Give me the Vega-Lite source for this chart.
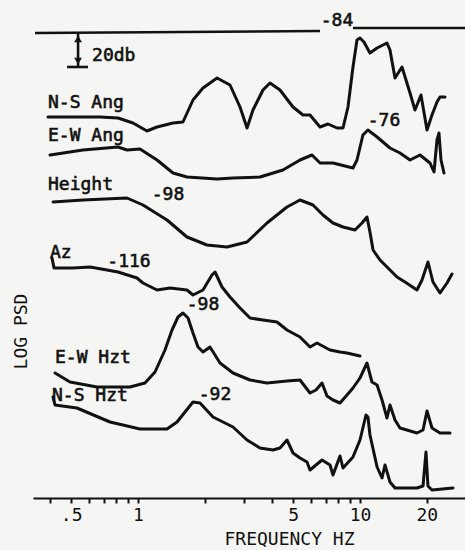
{
  "$schema": "https://vega.github.io/schema/vega-lite/v6.json",
  "width": 432,
  "height": 498,
  "autosize": "none",
  "padding": {"left": 33, "right": 0, "top": 0, "bottom": 52},
  "background": "#f5f5f3",
  "config": {"view": {"stroke": null}, "font": "DejaVu Sans Mono"},
  "datasets": {
    "curves": [
      {"s":"N-S Ang","f":0.3932,"v":381},{"s":"N-S Ang","f":0.674,"v":381},{"s":"N-S Ang","f":0.813,"v":380},{"s":"N-S Ang","f":0.949,"v":375},{"s":"N-S Ang","f":1.0976,"v":367},{"s":"N-S Ang","f":1.218,"v":371},{"s":"N-S Ang","f":1.438,"v":375},{"s":"N-S Ang","f":1.594,"v":376},{"s":"N-S Ang","f":1.769,"v":398},{"s":"N-S Ang","f":1.962,"v":410},{"s":"N-S Ang","f":2.270,"v":420},{"s":"N-S Ang","f":2.597,"v":413},{"s":"N-S Ang","f":2.881,"v":391},{"s":"N-S Ang","f":3.098,"v":370},{"s":"N-S Ang","f":3.296,"v":388},{"s":"N-S Ang","f":3.656,"v":408},{"s":"N-S Ang","f":3.932,"v":415},{"s":"N-S Ang","f":4.362,"v":408},{"s":"N-S Ang","f":4.991,"v":391},{"s":"N-S Ang","f":5.537,"v":383},{"s":"N-S Ang","f":5.954,"v":383},{"s":"N-S Ang","f":6.605,"v":371},{"s":"N-S Ang","f":7.176,"v":374},{"s":"N-S Ang","f":7.879,"v":370},{"s":"N-S Ang","f":8.384,"v":370},{"s":"N-S Ang","f":8.830,"v":391},{"s":"N-S Ang","f":9.299,"v":431},{"s":"N-S Ang","f":9.694,"v":458},{"s":"N-S Ang","f":10.0,"v":460},{"s":"N-S Ang","f":10.42,"v":456},{"s":"N-S Ang","f":11.09,"v":445},{"s":"N-S Ang","f":11.94,"v":450},{"s":"N-S Ang","f":13.23,"v":455},{"s":"N-S Ang","f":13.65,"v":448},{"s":"N-S Ang","f":14.38,"v":420},{"s":"N-S Ang","f":15.46,"v":431},{"s":"N-S Ang","f":16.80,"v":405},{"s":"N-S Ang","f":17.69,"v":388},{"s":"N-S Ang","f":18.83,"v":403},{"s":"N-S Ang","f":20.04,"v":368},{"s":"N-S Ang","f":21.10,"v":383},{"s":"N-S Ang","f":22.23,"v":396},{"s":"N-S Ang","f":22.93,"v":401},{"s":"N-S Ang","f":24.15,"v":401},
      {"s":"E-W Ang","f":0.4015,"v":343},{"s":"E-W Ang","f":0.565,"v":348},{"s":"E-W Ang","f":0.813,"v":351},{"s":"E-W Ang","f":0.892,"v":348},{"s":"E-W Ang","f":1.021,"v":349},{"s":"E-W Ang","f":1.218,"v":338},{"s":"E-W Ang","f":1.438,"v":325},{"s":"E-W Ang","f":1.662,"v":321},{"s":"E-W Ang","f":2.270,"v":319},{"s":"E-W Ang","f":2.679,"v":320},{"s":"E-W Ang","f":3.544,"v":321},{"s":"E-W Ang","f":4.499,"v":328},{"s":"E-W Ang","f":5.367,"v":338},{"s":"E-W Ang","f":6.079,"v":343},{"s":"E-W Ang","f":6.605,"v":335},{"s":"E-W Ang","f":7.558,"v":335},{"s":"E-W Ang","f":9.299,"v":330},{"s":"E-W Ang","f":9.694,"v":338},{"s":"E-W Ang","f":10.31,"v":363},{"s":"E-W Ang","f":10.86,"v":368},{"s":"E-W Ang","f":11.94,"v":361},{"s":"E-W Ang","f":13.65,"v":350},{"s":"E-W Ang","f":15.14,"v":345},{"s":"E-W Ang","f":16.80,"v":338},{"s":"E-W Ang","f":18.64,"v":343},{"s":"E-W Ang","f":20.67,"v":335},{"s":"E-W Ang","f":21.55,"v":326},{"s":"E-W Ang","f":22.23,"v":358},{"s":"E-W Ang","f":22.69,"v":365},{"s":"E-W Ang","f":23.17,"v":338},{"s":"E-W Ang","f":23.90,"v":325},
      {"s":"Height","f":0.4141,"v":296},{"s":"Height","f":0.565,"v":298},{"s":"Height","f":0.892,"v":300},{"s":"Height","f":1.053,"v":293},{"s":"Height","f":1.351,"v":278},{"s":"Height","f":1.662,"v":261},{"s":"Height","f":2.045,"v":253},{"s":"Height","f":2.518,"v":251},{"s":"Height","f":3.098,"v":256},{"s":"Height","f":3.811,"v":275},{"s":"Height","f":4.690,"v":291},{"s":"Height","f":5.367,"v":298},{"s":"Height","f":6.142,"v":293},{"s":"Height","f":6.813,"v":283},{"s":"Height","f":7.558,"v":275},{"s":"Height","f":8.384,"v":271},{"s":"Height","f":9.495,"v":268},{"s":"Height","f":10.21,"v":275},{"s":"Height","f":10.75,"v":281},{"s":"Height","f":11.09,"v":266},{"s":"Height","f":11.45,"v":248},{"s":"Height","f":12.31,"v":238},{"s":"Height","f":13.23,"v":231},{"s":"Height","f":14.68,"v":221},{"s":"Height","f":15.95,"v":216},{"s":"Height","f":18.06,"v":208},{"s":"Height","f":19.03,"v":218},{"s":"Height","f":20.24,"v":236},{"s":"Height","f":21.32,"v":216},{"s":"Height","f":22.93,"v":205},{"s":"Height","f":24.66,"v":215},{"s":"Height","f":25.97,"v":224},
      {"s":"Az","f":0.4099,"v":240},{"s":"Az","f":0.4184,"v":230},{"s":"Az","f":0.5093,"v":230},{"s":"Az","f":0.608,"v":231},{"s":"Az","f":0.7249,"v":228},{"s":"Az","f":0.813,"v":226},{"s":"Az","f":0.9893,"v":220},{"s":"Az","f":1.053,"v":215},{"s":"Az","f":1.218,"v":208},{"s":"Az","f":1.394,"v":210},{"s":"Az","f":1.662,"v":208},{"s":"Az","f":1.769,"v":203},{"s":"Az","f":1.962,"v":208},{"s":"Az","f":2.154,"v":223},{"s":"Az","f":2.223,"v":226},{"s":"Az","f":2.390,"v":211},{"s":"Az","f":2.597,"v":201},{"s":"Az","f":2.881,"v":190},{"s":"Az","f":3.196,"v":180},{"s":"Az","f":3.656,"v":178},{"s":"Az","f":4.228,"v":176},{"s":"Az","f":4.690,"v":168},{"s":"Az","f":5.367,"v":161},{"s":"Az","f":5.954,"v":151},{"s":"Az","f":6.403,"v":155},{"s":"Az","f":7.327,"v":148},{"s":"Az","f":8.127,"v":146},{"s":"Az","f":8.740,"v":145},{"s":"Az","f":10.0,"v":142},
      {"s":"E-W Hzt","f":0.4228,"v":125},{"s":"E-W Hzt","f":0.494,"v":116},{"s":"E-W Hzt","f":0.6534,"v":111},{"s":"E-W Hzt","f":0.920,"v":111},{"s":"E-W Hzt","f":1.075,"v":115},{"s":"E-W Hzt","f":1.193,"v":126},{"s":"E-W Hzt","f":1.323,"v":148},{"s":"E-W Hzt","f":1.423,"v":168},{"s":"E-W Hzt","f":1.514,"v":181},{"s":"E-W Hzt","f":1.594,"v":185},{"s":"E-W Hzt","f":1.680,"v":180},{"s":"E-W Hzt","f":1.769,"v":165},{"s":"E-W Hzt","f":1.863,"v":151},{"s":"E-W Hzt","f":1.962,"v":146},{"s":"E-W Hzt","f":2.110,"v":151},{"s":"E-W Hzt","f":2.223,"v":143},{"s":"E-W Hzt","f":2.341,"v":135},{"s":"E-W Hzt","f":2.679,"v":125},{"s":"E-W Hzt","f":3.196,"v":118},{"s":"E-W Hzt","f":3.811,"v":115},{"s":"E-W Hzt","f":4.690,"v":117},{"s":"E-W Hzt","f":5.367,"v":118},{"s":"E-W Hzt","f":5.954,"v":105},{"s":"E-W Hzt","f":6.336,"v":108},{"s":"E-W Hzt","f":6.744,"v":115},{"s":"E-W Hzt","f":7.102,"v":102},{"s":"E-W Hzt","f":7.558,"v":98},{"s":"E-W Hzt","f":8.127,"v":95},{"s":"E-W Hzt","f":8.740,"v":103},{"s":"E-W Hzt","f":9.299,"v":110},{"s":"E-W Hzt","f":10.0,"v":120},{"s":"E-W Hzt","f":10.75,"v":135},{"s":"E-W Hzt","f":11.32,"v":116},{"s":"E-W Hzt","f":11.94,"v":113},{"s":"E-W Hzt","f":12.57,"v":98},{"s":"E-W Hzt","f":13.23,"v":80},{"s":"E-W Hzt","f":13.65,"v":93},{"s":"E-W Hzt","f":14.38,"v":78},{"s":"E-W Hzt","f":15.14,"v":70},{"s":"E-W Hzt","f":18.06,"v":65},{"s":"E-W Hzt","f":19.23,"v":68},{"s":"E-W Hzt","f":20.04,"v":87},{"s":"E-W Hzt","f":21.10,"v":70},{"s":"E-W Hzt","f":22.93,"v":65},{"s":"E-W Hzt","f":25.44,"v":65},
      {"s":"N-S Hzt","f":0.4141,"v":101},{"s":"N-S Hzt","f":0.4228,"v":93},{"s":"N-S Hzt","f":0.5309,"v":90},{"s":"N-S Hzt","f":0.748,"v":76},{"s":"N-S Hzt","f":1.021,"v":69},{"s":"N-S Hzt","f":1.351,"v":69},{"s":"N-S Hzt","f":1.499,"v":76},{"s":"N-S Hzt","f":1.769,"v":96},{"s":"N-S Hzt","f":1.902,"v":95},{"s":"N-S Hzt","f":2.177,"v":81},{"s":"N-S Hzt","f":2.679,"v":71},{"s":"N-S Hzt","f":3.098,"v":58},{"s":"N-S Hzt","f":3.544,"v":50},{"s":"N-S Hzt","f":4.056,"v":48},{"s":"N-S Hzt","f":4.362,"v":50},{"s":"N-S Hzt","f":4.690,"v":58},{"s":"N-S Hzt","f":4.991,"v":45},{"s":"N-S Hzt","f":5.367,"v":40},{"s":"N-S Hzt","f":5.772,"v":36},{"s":"N-S Hzt","f":5.954,"v":28},{"s":"N-S Hzt","f":6.744,"v":38},{"s":"N-S Hzt","f":7.327,"v":33},{"s":"N-S Hzt","f":7.558,"v":23},{"s":"N-S Hzt","f":8.127,"v":42},{"s":"N-S Hzt","f":8.384,"v":30},{"s":"N-S Hzt","f":9.299,"v":41},{"s":"N-S Hzt","f":10.0,"v":58},{"s":"N-S Hzt","f":10.64,"v":83},{"s":"N-S Hzt","f":10.86,"v":81},{"s":"N-S Hzt","f":11.09,"v":63},{"s":"N-S Hzt","f":11.94,"v":31},{"s":"N-S Hzt","f":12.57,"v":20},{"s":"N-S Hzt","f":12.96,"v":33},{"s":"N-S Hzt","f":13.65,"v":16},{"s":"N-S Hzt","f":14.38,"v":10},{"s":"N-S Hzt","f":18.06,"v":10},{"s":"N-S Hzt","f":19.23,"v":12},{"s":"N-S Hzt","f":19.83,"v":46},{"s":"N-S Hzt","f":20.24,"v":12},{"s":"N-S Hzt","f":21.10,"v":8},{"s":"N-S Hzt","f":26.24,"v":10}
    ],
    "refline": [
      {"seg":"a","f":0.3436,"v":465},{"seg":"a","f":6.605,"v":467},
      {"seg":"b","f":9.299,"v":470},{"seg":"b","f":29.72,"v":470}
    ],
    "scalebar": [
      {"f":0.537,"f2":0.537,"v":431,"v2":464},
      {"f":0.479,"f2":0.595,"v":431,"v2":431}
    ],
    "arrows": [
      {"dir":"up","f":0.537,"v":459},
      {"dir":"down","f":0.537,"v":437}
    ],
    "labels": [
      {"kind":"name","t":"N-S Ang","f":0.3932,"v":395},
      {"kind":"name","t":"E-W Ang","f":0.3932,"v":362},
      {"kind":"name","t":"Height","f":0.3932,"v":313},
      {"kind":"name","t":"Az","f":0.4015,"v":245},
      {"kind":"name","t":"E-W Hzt","f":0.4228,"v":140},
      {"kind":"name","t":"N-S Hzt","f":0.4099,"v":102},
      {"kind":"name","t":"20db","f":0.6208,"v":442},
      {"kind":"value","t":"-98","f":1.365,"v":303},
      {"kind":"value","t":"-116","f":0.9105,"v":236},
      {"kind":"value","t":"-98","f":1.962,"v":193},
      {"kind":"value","t":"-92","f":2.223,"v":103},
      {"kind":"value","t":"-84","f":7.879,"v":477},
      {"kind":"value","t":"-76","f":12.83,"v":377}
    ]
  },
  "layer": [
    {
      "data": {"name": "curves"},
      "mark": {"type": "line", "stroke": "#111111", "strokeWidth": 3, "strokeJoin": "round", "strokeCap": "round"},
      "encoding": {
        "x": {
          "field": "f", "type": "quantitative",
          "scale": {"type": "log", "domain": [0.3365, 29.72], "nice": false},
          "axis": {
            "title": "FREQUENCY HZ",
            "values": [0.4, 0.5, 0.6, 0.7, 0.8, 0.9, 1, 2, 3, 4, 5, 6, 7, 8, 9, 10, 20],
            "labelExpr": "datum.value == 0.5 ? '.5' : (indexof([1, 5, 10, 20], datum.value) >= 0 ? toString(datum.value) : '')",
            "labelOverlap": false, "labelFlush": false,
            "labelFont": "DejaVu Sans Mono", "labelFontSize": 18, "labelColor": "#111111",
            "labelPadding": 3,
            "tickSize": 5, "tickWidth": 2, "tickColor": "#111111",
            "domainColor": "#111111", "domainWidth": 2.2,
            "grid": false,
            "titleFont": "DejaVu Sans Mono", "titleFontSize": 18, "titleFontWeight": "normal", "titleColor": "#111111",
            "titleX": 256, "titleY": 46, "titleAlign": "center", "titleBaseline": "alphabetic"
          }
        },
        "y": {
          "field": "v", "type": "quantitative",
          "scale": {"domain": [0, 498], "nice": false, "zero": false},
          "axis": {
            "title": "LOG PSD", "labels": false, "ticks": false, "domain": false, "grid": false,
            "titleFont": "DejaVu Sans Mono", "titleFontSize": 18, "titleFontWeight": "normal", "titleColor": "#111111",
            "titleX": -12, "titleY": 331, "titleAngle": -90, "titleAlign": "center", "titleBaseline": "middle"
          }
        },
        "detail": {"field": "s", "type": "nominal"}
      }
    },
    {
      "data": {"name": "refline"},
      "mark": {"type": "line", "stroke": "#111111", "strokeWidth": 2.4},
      "encoding": {
        "x": {"field": "f", "type": "quantitative"},
        "y": {"field": "v", "type": "quantitative"},
        "detail": {"field": "seg", "type": "nominal"}
      }
    },
    {
      "data": {"name": "scalebar"},
      "mark": {"type": "rule", "stroke": "#111111", "strokeWidth": 2.6},
      "encoding": {
        "x": {"field": "f", "type": "quantitative"},
        "x2": {"field": "f2"},
        "y": {"field": "v", "type": "quantitative"},
        "y2": {"field": "v2"}
      }
    },
    {
      "data": {"name": "arrows"},
      "mark": {"type": "point", "filled": true, "color": "#111111", "size": 60, "opacity": 1},
      "encoding": {
        "x": {"field": "f", "type": "quantitative"},
        "y": {"field": "v", "type": "quantitative"},
        "shape": {"field": "dir", "type": "nominal", "scale": {"domain": ["up", "down"], "range": ["triangle-up", "triangle-down"]}, "legend": null}
      }
    },
    {
      "data": {"name": "labels"},
      "transform": [{"filter": "datum.kind == 'name'"}],
      "mark": {"type": "text", "align": "left", "baseline": "middle", "font": "DejaVu Sans Mono", "fontSize": 18, "fill": "#111111", "stroke": "#111111", "strokeWidth": 0.6},
      "encoding": {
        "x": {"field": "f", "type": "quantitative"},
        "y": {"field": "v", "type": "quantitative"},
        "text": {"field": "t"}
      }
    },
    {
      "data": {"name": "labels"},
      "transform": [{"filter": "datum.kind == 'value'"}],
      "mark": {"type": "text", "align": "center", "baseline": "middle", "font": "DejaVu Sans Mono", "fontSize": 18, "fill": "#111111", "stroke": "#111111", "strokeWidth": 0.6},
      "encoding": {
        "x": {"field": "f", "type": "quantitative"},
        "y": {"field": "v", "type": "quantitative"},
        "text": {"field": "t"}
      }
    }
  ]
}
